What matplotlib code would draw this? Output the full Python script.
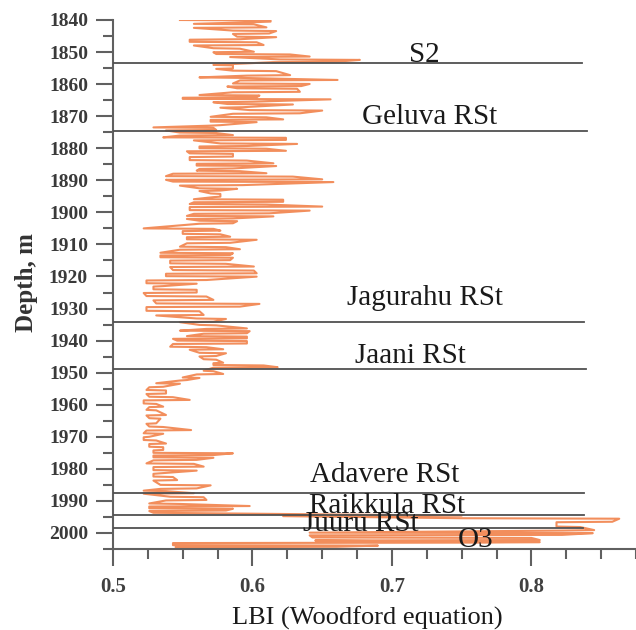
import matplotlib
matplotlib.use('Agg')
import matplotlib.pyplot as plt
from matplotlib.ticker import MultipleLocator

plt.rcParams['font.family'] = ['Liberation Serif', 'DejaVu Serif']

# LBI log: each row is one depth with the left / right extent of the zigzag
depth_m = [1840.0, 1840.5, 1841.2, 1842.3, 1843.3, 1844.2, 1845.2, 1846.0, 1846.8, 1847.8,
           1848.8, 1849.9, 1850.6, 1851.4, 1852.3, 1853.0, 1854.0, 1855.1, 1855.8, 1857.2,
           1857.9, 1858.7, 1859.8, 1860.6, 1861.3, 1862.4, 1863.4, 1864.1, 1864.6, 1865.5,
           1866.2, 1867.2, 1868.1, 1869.1, 1870.2, 1871.0, 1871.7, 1872.8, 1873.5, 1874.3,
           1875.1, 1875.9, 1876.6, 1877.4, 1878.5, 1879.3, 1880.0, 1880.8, 1881.6, 1882.6,
           1883.7, 1884.7, 1885.4, 1886.3, 1887.0, 1887.8, 1888.7, 1889.7, 1890.4, 1891.5,
           1892.5, 1893.2, 1894.1, 1895.1, 1895.9, 1896.7, 1897.4, 1898.2, 1899.3, 1900.3,
           1901.1, 1901.9, 1902.6, 1903.4, 1905.0, 1905.7, 1906.7, 1907.6, 1908.4, 1909.5,
           1910.7, 1911.5, 1912.6, 1913.3, 1914.0, 1914.9, 1915.9, 1916.9, 1918.0, 1919.0,
           1919.9, 1921.1, 1922.1, 1923.0, 1924.0, 1925.0, 1926.1, 1927.3, 1928.4, 1929.4,
           1930.7, 1932.0, 1933.1, 1934.1, 1935.1, 1936.2, 1936.9, 1937.7, 1938.6, 1939.3,
           1940.0, 1940.9, 1941.9, 1942.7, 1943.8, 1944.8, 1945.8, 1946.9, 1947.6, 1948.3,
           1949.4, 1950.4, 1951.5, 1952.3, 1953.3, 1954.4, 1955.4, 1956.5, 1957.5, 1958.5,
           1959.6, 1960.6, 1961.6, 1963.2, 1964.2, 1965.8, 1966.8, 1967.9, 1968.9, 1970.0,
           1971.0, 1972.1, 1973.1, 1974.1, 1975.0, 1975.7, 1976.4, 1977.2, 1978.3, 1979.3,
           1980.4, 1981.4, 1982.4, 1983.5, 1985.0, 1986.1, 1986.8, 1987.6, 1988.7, 1989.7,
           1990.8, 1991.6, 1992.3, 1993.0, 1993.7, 1994.6, 1995.4, 1996.5, 1998.0, 1999.1,
           1999.9, 2000.6, 2001.4, 2002.2, 2002.7, 2003.0, 2003.8, 2004.3]
lbi_left = [0.548, 0.603, 0.558, 0.558, 0.586, 0.586, 0.589, 0.555, 0.555, 0.558,
            0.572, 0.572, 0.574, 0.584, 0.620, 0.615, 0.572, 0.574, 0.586, 0.596,
            0.562, 0.591, 0.586, 0.582, 0.589, 0.586, 0.562, 0.550, 0.550, 0.572,
            0.582, 0.577, 0.598, 0.586, 0.570, 0.570, 0.570, 0.570, 0.529, 0.538,
            0.548, 0.548, 0.536, 0.558, 0.577, 0.562, 0.562, 0.553, 0.555, 0.555,
            0.555, 0.560, 0.560, 0.562, 0.560, 0.543, 0.538, 0.538, 0.543, 0.548,
            0.562, 0.562, 0.570, 0.572, 0.558, 0.558, 0.555, 0.555, 0.555, 0.558,
            0.553, 0.553, 0.562, 0.562, 0.522, 0.550, 0.550, 0.553, 0.553, 0.553,
            0.548, 0.548, 0.534, 0.534, 0.534, 0.541, 0.541, 0.541, 0.543, 0.538,
            0.538, 0.524, 0.524, 0.529, 0.529, 0.522, 0.524, 0.529, 0.531, 0.524,
            0.524, 0.531, 0.560, 0.548, 0.562, 0.567, 0.548, 0.565, 0.553, 0.543,
            0.546, 0.543, 0.541, 0.555, 0.562, 0.562, 0.565, 0.572, 0.572, 0.572,
            0.565, 0.560, 0.550, 0.548, 0.531, 0.526, 0.524, 0.524, 0.526, 0.522,
            0.522, 0.526, 0.524, 0.524, 0.526, 0.524, 0.526, 0.524, 0.522, 0.522,
            0.522, 0.526, 0.526, 0.529, 0.529, 0.529, 0.529, 0.529, 0.524, 0.529,
            0.529, 0.529, 0.529, 0.529, 0.534, 0.534, 0.522, 0.522, 0.541, 0.538,
            0.526, 0.526, 0.526, 0.526, 0.529, 0.622, 0.750, 0.818, 0.818, 0.823,
            0.641, 0.641, 0.643, 0.645, 0.730, 0.543, 0.543, 0.545]
lbi_right = [0.613, 0.613, 0.601, 0.610, 0.617, 0.612, 0.617, 0.591, 0.603, 0.608,
             0.591, 0.601, 0.627, 0.641, 0.677, 0.660, 0.586, 0.586, 0.617, 0.627,
             0.591, 0.661, 0.641, 0.635, 0.632, 0.634, 0.605, 0.603, 0.656, 0.600,
             0.629, 0.593, 0.650, 0.634, 0.610, 0.622, 0.603, 0.577, 0.572, 0.574,
             0.574, 0.586, 0.624, 0.624, 0.632, 0.596, 0.610, 0.624, 0.586, 0.586,
             0.596, 0.615, 0.617, 0.586, 0.591, 0.610, 0.629, 0.650, 0.658, 0.593,
             0.589, 0.577, 0.577, 0.577, 0.622, 0.622, 0.610, 0.650, 0.641, 0.612,
             0.615, 0.586, 0.589, 0.586, 0.572, 0.577, 0.577, 0.584, 0.603, 0.584,
             0.581, 0.591, 0.586, 0.584, 0.586, 0.584, 0.581, 0.601, 0.601, 0.603,
             0.603, 0.567, 0.560, 0.536, 0.560, 0.560, 0.567, 0.572, 0.605, 0.591,
             0.562, 0.565, 0.581, 0.572, 0.574, 0.596, 0.598, 0.596, 0.596, 0.596,
             0.596, 0.596, 0.567, 0.579, 0.581, 0.574, 0.574, 0.579, 0.608, 0.618,
             0.572, 0.579, 0.562, 0.553, 0.548, 0.536, 0.538, 0.538, 0.543, 0.555,
             0.531, 0.536, 0.531, 0.538, 0.534, 0.531, 0.536, 0.556, 0.536, 0.526,
             0.531, 0.538, 0.536, 0.536, 0.586, 0.572, 0.572, 0.560, 0.558, 0.565,
             0.560, 0.534, 0.543, 0.546, 0.570, 0.560, 0.538, 0.558, 0.565, 0.567,
             0.548, 0.598, 0.586, 0.581, 0.567, 0.750, 0.863, 0.858, 0.835, 0.845,
             0.844, 0.822, 0.800, 0.806, 0.806, 0.767, 0.690, 0.660]

# stratigraphic boundaries
bound_names = ['S2', 'Geluva RSt', 'Jagurahu RSt', 'Jaani RSt', 'Adavere RSt',
               'Raikkula RSt', 'Juuru RSt', 'O3']
bound_depth = [1853.4, 1874.6, 1934.2, 1948.9, 1987.5, 1994.4, 1998.5]
bound_end = [0.836, 0.840, 0.838, 0.839, 0.838, 0.838, 0.837]
label_x = [0.712, 0.6785, 0.6677, 0.6735, 0.6412, 0.6405, 0.6364, 0.7473]
label_depth = [1853.0, 1872.4, 1928.9, 1947.0, 1984.0, 1993.9, 1999.4, 2004.3]

# zigzag trace through the left/right extents
xs, ys = [], []
for i, d in enumerate(depth_m):
    pair = (lbi_left[i], lbi_right[i]) if i % 2 == 0 else (lbi_right[i], lbi_left[i])
    xs += list(pair)
    ys += [d, d + 0.15]

fig = plt.figure(figsize=(6.36, 6.30), dpi=100)
ax = fig.add_axes([113/636, 81/630, 523/636, 529/630])

ax.plot(xs, ys, color='#f28e5c', lw=1.5, zorder=2)
for d, x1 in zip(bound_depth, bound_end):
    ax.plot([0.5, x1], [d, d], color='#505050', lw=1.3, zorder=3)
for name, x, d in zip(bound_names, label_x, label_depth):
    ax.text(x, d, name, fontsize=21, color='#1a1a1a', ha='left', va='baseline', zorder=4)

ax.set_xlim(0.5, 0.875)
ax.set_ylim(2005, 1840)
ax.xaxis.set_major_locator(MultipleLocator(0.1))
ax.xaxis.set_minor_locator(MultipleLocator(0.025))
ax.yaxis.set_major_locator(MultipleLocator(10))
ax.yaxis.set_minor_locator(MultipleLocator(5))
ax.set_xticks([0.5, 0.6, 0.7, 0.8])
ax.set_xticklabels(['0.5', '0.6', '0.7', '0.8'], fontsize=15, fontweight='bold', color='#404040')
for lab in ax.get_yticklabels():
    lab.set_fontsize(14)
    lab.set_fontweight('bold')
    lab.set_color('#3a3a3a')

for s in ['top', 'right']:
    ax.spines[s].set_visible(False)
for s in ['left', 'bottom']:
    ax.spines[s].set_color('#606060')
    ax.spines[s].set_linewidth(1.5)
ax.tick_params(which='major', length=12, width=1.5, color='#606060', direction='out')
ax.tick_params(which='minor', length=7, width=1.5, color='#606060', direction='out')
ax.tick_params(axis='x', which='major', pad=8)
ax.tick_params(axis='y', which='major', pad=6)

ax.set_xlabel('LBI (Woodford equation)', fontsize=19, color='#1a1a1a', va='baseline')
ax.xaxis.set_label_coords(0.4857, -0.1437)
ax.set_ylabel('Depth, m', fontsize=18, fontweight='bold', color='#333333', va='center')
ax.yaxis.set_label_coords(-0.166, 0.503)

fig.savefig('out.png', dpi=100)
